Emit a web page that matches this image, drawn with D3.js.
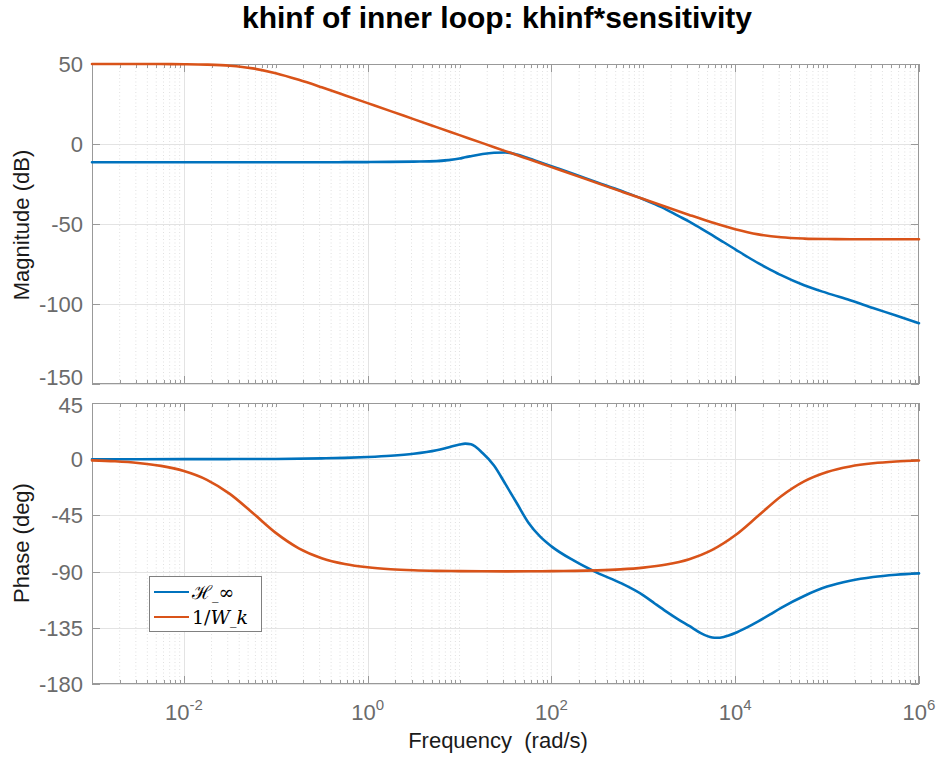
<!DOCTYPE html>
<html>
<head>
<meta charset="utf-8">
<script src="https://cdn.jsdelivr.net/npm/d3@7"></script>
<style>
  body { margin: 0; background: #fff; }
  svg { display: block; font-family: "Liberation Sans", Arial, Helvetica, sans-serif; }
</style>
</head>
<body>
<svg id="chart" width="941" height="758"></svg>
<script>
// ---- Frequency response data (rad/s, dB, deg) ----
// 1/W_k weight, sampled every quarter decade
const wkFreq = [0.001, 0.00178, 0.00316, 0.00562, 0.01, 0.0178, 0.0316, 0.0562, 0.1, 0.178,
  0.316, 0.562, 1, 1.78, 3.16, 5.62, 10, 17.8, 31.6, 56.2, 100, 178, 316, 562, 1000, 1780,
  3160, 5620, 10000, 17800, 31600, 56200, 1e5, 1.78e5, 3.16e5, 5.62e5, 1e6];
const wkMag = [50.0, 50.0, 49.99, 49.96, 49.88, 49.63, 48.93, 47.26, 44.23, 40.09,
  35.41, 30.51, 25.54, 20.56, 15.56, 10.56, 5.56, 0.56, -4.44, -9.44, -14.44, -19.44, -24.44,
  -29.44, -34.43, -39.40, -44.31, -49.04, -53.27, -56.48, -58.33, -59.12, -59.41, -59.50,
  -59.55, -59.56, -59.56];
const wkPhase = [-0.95, -1.70, -3.02, -5.35, -9.46, -16.5, -27.8, -43.1, -59.0, -71.35,
  -79.26, -83.91, -86.57, -88.07, -88.91, -89.39, -89.63, -89.75, -89.79, -89.76, -89.65,
  -89.41, -88.98, -88.2, -86.8, -84.35, -80.03, -72.63, -60.93, -45.35, -29.65, -17.74,
  -10.2, -5.78, -3.26, -1.83, -1.03];

// H_inf closed loop (khinf*sensitivity), finer sampling around the crossover
const hFreq = [0.001, 0.00316, 0.01, 0.0316, 0.1, 0.316, 0.562, 1, 1.78, 3.16, 5.62, 7.5,
  10, 11.5, 13.3, 17.8, 23.7, 31.6, 42.2, 56.2, 75, 100, 178, 316, 562, 1000, 1330, 1780,
  2370, 3160, 4220, 5620, 6310, 7500, 10000, 13300, 17800, 23700, 31600, 56200, 1e5, 1.78e5,
  3.16e5, 5.62e5, 1e6];
const hMag = [-11.4, -11.4, -11.4, -11.4, -11.4, -11.4, -11.35, -11.3, -11.2, -11.0, -10.7,
  -10.1, -9.1, -8.3, -7.6, -6.3, -5.5, -5.3, -6.6, -8.9, -11.4, -13.9, -18.9, -24.0, -29.1,
  -34.5, -37.6, -41.0, -44.8, -48.5, -52.7, -57.0, -58.8, -61.4, -65.8, -70.2, -74.5, -78.3,
  -82.0, -88.3, -93.2, -97.7, -102.5, -107.2, -112.0];
const hPhase = [0, 0, 0.05, 0.1, 0.2, 0.7, 1.1, 1.8, 2.8, 4.4, 7.2, 9.4,
  11.7, 12.5, 11.9, 5.0, -5.0, -20.0, -35.5, -50.8, -61.8, -69.8, -81.5, -91.0, -99.0,
  -109.0, -115.5, -122.0, -128.0, -133.5, -139.2, -142.7, -143.0, -142.3, -139.2, -134.8,
  -129.8, -124.5, -119.0, -109.5, -102.0, -97.3, -94.3, -92.5, -91.4];

// Axis ticks
const magTicks = [50, 0, -50, -100, -150];
const phaseTicks = [45, 0, -45, -90, -135, -180];
const freqTickExp = [-2, 0, 2, 4, 6];

const seriesNames = ["\u210B_\u221E", "1/W_k"];
const seriesColors = ["#0072BD", "#D95319"];

// ---- Layout ----
const svg = d3.select("#chart");
const X0 = 92, X1 = 919;
const x = d3.scaleLog().domain([1e-3, 1e6]).range([X0, X1]);
const yMag = d3.scaleLinear().domain([-150, 50]).range([384, 64]);
const yPh = d3.scaleLinear().domain([-180, 45]).range([684, 403]);

const axisColor = "#999999";
const tickTextColor = "#6b6b6b";
const gridMajor = "#e3e3e3";
const gridMinor = "#e0e0e0";

// minor decade subdivisions (n * 10^k)
const minorX = [];
const majorX = freqTickExp.map(e => Math.pow(10, e));
for (let k = -3; k <= 5; k++) {
  for (let n = 1; n <= 9; n++) {
    const v = n * Math.pow(10, k);
    if (v <= 1e-3 || v >= 1e6) continue;
    if (n === 1 && k % 2 === 0) continue;
    minorX.push(v);
  }
}

// labelNudge shifts the end labels so neighbouring panels do not collide
function panel(yScale, yTicks, showXLabels, labelNudge) {
  const [yb, yt] = yScale.range();
  const g = svg.append("g");
  // minor grid (dotted)
  g.selectAll(null).data(minorX).enter().append("line")
    .attr("x1", d => x(d)).attr("x2", d => x(d))
    .attr("y1", yt).attr("y2", yb)
    .attr("stroke", gridMinor).attr("stroke-width", 1)
    .attr("stroke-dasharray", "1,2.5");
  // major vertical grid
  g.selectAll(null).data(majorX.filter(v => v < 1e6)).enter().append("line")
    .attr("x1", d => Math.round(x(d)) + 0.5).attr("x2", d => Math.round(x(d)) + 0.5)
    .attr("y1", yt).attr("y2", yb)
    .attr("stroke", gridMajor).attr("stroke-width", 1);
  // horizontal grid
  g.selectAll(null).data(yTicks).enter().append("line")
    .attr("x1", X0).attr("x2", X1)
    .attr("y1", d => Math.round(yScale(d)) + 0.5).attr("y2", d => Math.round(yScale(d)) + 0.5)
    .attr("stroke", gridMajor).attr("stroke-width", 1);

  // ticks (inward, on all four sides)
  const tk = g.append("g").attr("stroke", axisColor).attr("stroke-width", 1);
  minorX.forEach(v => {
    const px = Math.round(x(v)) + 0.5;
    tk.append("line").attr("x1", px).attr("x2", px).attr("y1", yb).attr("y2", yb - 4);
    tk.append("line").attr("x1", px).attr("x2", px).attr("y1", yt).attr("y2", yt + 4);
  });
  majorX.forEach(v => {
    const px = Math.round(x(v)) + 0.5;
    tk.append("line").attr("x1", px).attr("x2", px).attr("y1", yb).attr("y2", yb - 8);
    tk.append("line").attr("x1", px).attr("x2", px).attr("y1", yt).attr("y2", yt + 8);
  });
  yTicks.forEach(v => {
    const py = Math.round(yScale(v)) + 0.5;
    tk.append("line").attr("x1", X0).attr("x2", X0 + 8).attr("y1", py).attr("y2", py);
    tk.append("line").attr("x1", X1).attr("x2", X1 - 8).attr("y1", py).attr("y2", py);
  });

  // box
  g.append("rect").attr("x", X0 + 0.5).attr("y", yt + 0.5)
    .attr("width", X1 - X0 - 1).attr("height", yb - yt - 1)
    .attr("fill", "none").attr("stroke", axisColor).attr("stroke-width", 1);

  // y tick labels
  const yMin = yScale.domain()[0], yMax = yScale.domain()[1];
  g.selectAll(null).data(yTicks).enter().append("text")
    .attr("x", X0 - 9)
    .attr("y", d => yScale(d) + (d === yMin ? -labelNudge[0] : d === yMax ? labelNudge[1] : 0))
    .attr("dy", "0.36em")
    .attr("text-anchor", "end").attr("font-size", 22).attr("fill", tickTextColor)
    .text(d => d);

  if (showXLabels) {
    const lab = g.selectAll(null).data(freqTickExp).enter().append("text")
      .attr("x", d => x(Math.pow(10, d))).attr("y", yb + 36)
      .attr("text-anchor", "middle").attr("font-size", 22).attr("fill", tickTextColor);
    lab.append("tspan").text("10");
    lab.append("tspan").attr("font-size", 15).attr("dy", -10).text(d => d);
  }
  return g;
}

panel(yMag, magTicks, false, [7, 0]);
panel(yPh, phaseTicks, true, [0, 2]);

// ---- curves ----
function curve(freq, vals, yScale, color) {
  const pts = freq.map((f, i) => [f, vals[i]]);
  svg.append("path").datum(pts)
    .attr("fill", "none").attr("stroke", color).attr("stroke-width", 2.6)
    .attr("stroke-linejoin", "round").attr("stroke-linecap", "round")
    .attr("d", d3.line().x(d => x(d[0])).y(d => yScale(d[1])).curve(d3.curveMonotoneX));
}
curve(hFreq, hMag, yMag, seriesColors[0]);
curve(wkFreq, wkMag, yMag, seriesColors[1]);
curve(hFreq, hPhase, yPh, seriesColors[0]);
curve(wkFreq, wkPhase, yPh, seriesColors[1]);

// ---- titles and labels ----
svg.append("text").attr("x", 497).attr("y", 28).attr("text-anchor", "middle")
  .attr("font-size", 30).attr("font-weight", "bold").attr("fill", "#000")
  .text("khinf of inner loop: khinf*sensitivity");
svg.append("text").attr("x", 498).attr("y", 748).attr("text-anchor", "middle")
  .attr("font-size", 22).attr("fill", "#1a1a1a").attr("xml:space", "preserve")
  .text("Frequency  (rad/s)");
svg.append("text").attr("transform", "translate(29,225) rotate(-90)")
  .attr("text-anchor", "middle").attr("font-size", 22).attr("fill", "#1a1a1a")
  .text("Magnitude (dB)");
svg.append("text").attr("transform", "translate(29,543) rotate(-90)")
  .attr("text-anchor", "middle").attr("font-size", 22).attr("fill", "#1a1a1a")
  .text("Phase (deg)");

// ---- legend ----
const lg = svg.append("g");
lg.append("rect").attr("x", 149.5).attr("y", 576.5).attr("width", 112).attr("height", 55)
  .attr("fill", "#fff").attr("stroke", "#808080").attr("stroke-width", 1);
seriesNames.forEach((name, i) => {
  const yy = 592 + i * 25;
  lg.append("line").attr("x1", 154).attr("x2", 189).attr("y1", yy).attr("y2", yy)
    .attr("stroke", seriesColors[i]).attr("stroke-width", 2.2);
  const t = lg.append("text").attr("x", 192).attr("y", yy + 7)
    .attr("font-family", "'DejaVu Serif', 'Liberation Serif', serif").attr("font-size", 19)
    .attr("fill", "#000");
  if (i === 0) {
    t.append("tspan").text("\u210B");
    t.append("tspan").attr("font-size", 13).attr("dy", 1).text("_");
    t.append("tspan").attr("dy", -1).text("\u221E");
  } else {
    t.append("tspan").text("1/");
    t.append("tspan").attr("font-style", "italic").text("W");
    t.append("tspan").attr("font-size", 13).attr("dy", 1).text("_");
    t.append("tspan").attr("dy", -1).attr("font-style", "italic").text("k");
  }
});
</script>
</body>
</html>
